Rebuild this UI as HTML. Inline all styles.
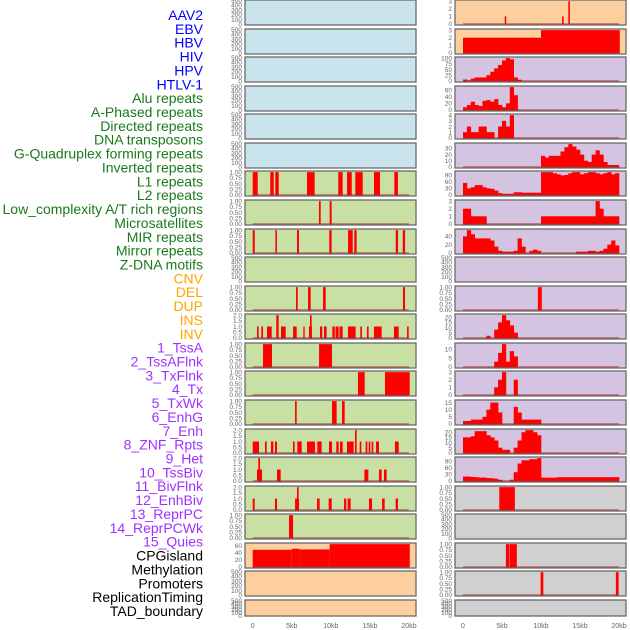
<!DOCTYPE html>
<html><head><meta charset="utf-8">
<style>
html,body{margin:0;padding:0;background:#fff;}
svg{display:block;font-family:"Liberation Sans",sans-serif;}
</style></head>
<body>
<svg id="chart" width="630" height="630" viewBox="0 0 630 630" xmlns="http://www.w3.org/2000/svg"></svg>
<script>
const trackLabels = ["AAV2","EBV","HBV","HIV","HPV","HTLV-1","Alu repeats","A-Phased repeats","Directed repeats","DNA transposons","G-Quadruplex forming repeats","Inverted repeats","L1 repeats","L2 repeats","Low_complexity A/T rich regions","Microsatellites","MIR repeats","Mirror repeats","Z-DNA motifs","CNV","DEL","DUP","INS","INV","1_TssA","2_TssAFlnk","3_TxFlnk","4_Tx","5_TxWk","6_EnhG","7_Enh","8_ZNF_Rpts","9_Het","10_TssBiv","11_BivFlnk","12_EnhBiv","13_ReprPC","14_ReprPCWk","15_Quies","CPGisland","Methylation","Promoters","ReplicationTiming","TAD_boundary"];
const labelColors = ["#0000ff","#0000ff","#0000ff","#0000ff","#0000ff","#0000ff","#1a7a1a","#1a7a1a","#1a7a1a","#1a7a1a","#1a7a1a","#1a7a1a","#1a7a1a","#1a7a1a","#1a7a1a","#1a7a1a","#1a7a1a","#1a7a1a","#1a7a1a","#ffa500","#ffa500","#ffa500","#ffa500","#ffa500","#a030ff","#a030ff","#a030ff","#a030ff","#a030ff","#a030ff","#a030ff","#a030ff","#a030ff","#a030ff","#a030ff","#a030ff","#a030ff","#a030ff","#a030ff","#000","#000","#000","#000","#000"];
const xTicks = [0,5,10,15,20];
const xTickLabels = ["0","5kb","10kb","15kb","20kb"];
const leftBg = ["#c9e4ec","#c9e4ec","#c9e4ec","#c9e4ec","#c9e4ec","#c9e4ec","#c9e0a5","#c9e0a5","#c9e0a5","#c9e0a5","#c9e0a5","#c9e0a5","#c9e0a5","#c9e0a5","#c9e0a5","#c9e0a5","#c9e0a5","#c9e0a5","#c9e0a5","#fecf9e","#fecf9e","#fecf9e"];
const rightBg = ["#fecf9e","#fecf9e","#d5c4e1","#d5c4e1","#d5c4e1","#d5c4e1","#d5c4e1","#d5c4e1","#d5c4e1","#d5c4e1","#d5c4e1","#d5c4e1","#d5c4e1","#d5c4e1","#d5c4e1","#d5c4e1","#d5c4e1","#d0d0d0","#d0d0d0","#d0d0d0","#d0d0d0","#d0d0d0"];
// y-axis maxima (0 = empty panel)
const leftMax = [0,0,0,0,0,0,1,1,1,0,1,2,1,1,1,2,2,2,1,64,0,0];
const rightMax = [3,3,100,70,4,37,105,3,55,0,1,22,13,3,16,22,105,1,0,1,1,0];
const leftTicks = [null,null,null,null,null,null,"u1","u1","u1",null,"u1","u2","u1","u1","u1","u2","u2","u2","u1",[0,20,40,60],null,null];
const rightTicks = [[0,1,2,3],[0,1,2,3],[0,25,50,75,100],[0,20,40,60],[0,1,2,3,4],[0,10,20,30],[0,30,60,90],[0,1,2,3],[0,20,40],null,"u1",[0,5,10,15,20],[0,5,10],[0,1,2,3],[0,5,10,15],[0,5,10,15,20],[0,30,60,90],"u1",null,"u1","u1",null];
// left intervals [startKb, endKb, value]
const leftIntervals = [[],[],[],[],[],[],
 [[0,0.64,1],[2.25,2.69,1],[2.89,3.33,1],[6.95,7.93,1],[10.95,11.51,1],[12.07,12.67,1],[13.13,14.08,1],[15.52,16.29,1],[18.12,18.59,1]],
 [[8.48,8.7,1],[9.85,10.1,1]],
 [[0,0.26,1],[2.9,3.1,1],[5.67,5.92,1],[9.8,10.1,1],[12.2,12.8,1],[13.0,13.3,1],[18.3,18.6,1],[19.2,19.5,1]],
 [],
 [[5.54,5.76,1],[7.08,7.42,1],[9.0,9.34,1],[19.23,19.49,1]],
 [[0.55,0.76,1],[1.1,1.32,1],[1.83,2.43,1],[3.02,3.32,2],[3.62,4.22,1],[5.16,5.63,1],[6.48,6.65,1],[7.2,7.58,1],[7.33,7.54,2],[8.61,8.9,1],[9.12,9.46,1],[10.19,10.5,1],[10.6,11.0,1],[11.1,11.51,1],[12.19,13.17,1],[13.77,13.98,1],[14.62,14.83,1],[15.52,16.5,1],[18.08,18.68,1],[19.75,19.96,1]],
 [[1.32,2.47,1],[8.49,10.15,1]],
 [[13.47,14.33,1],[16.93,20.09,1]],
 [[5.42,5.63,1],[10.15,10.74,1],[11.43,11.77,1]],
 [[0,0.81,1],[1.57,1.79,1],[2.34,2.64,1],[2.85,3.11,1],[5.16,5.37,1],[5.71,6.27,1],[6.95,7.97,1],[8.27,8.82,1],[9.76,10.15,1],[10.7,11.0,1],[11.17,11.51,1],[12.06,12.92,1],[13.09,13.3,2],[13.69,13.9,1],[14.45,14.67,1],[14.84,15.05,1],[15.22,15.43,1],[15.78,16.16,1],[18.2,18.68,1]],
 [[0.55,1.19,1],[0.72,0.94,2],[3.11,3.58,1],[14.29,14.8,1],[16.16,16.5,1],[16.8,17.14,1]],
 [[0,0.25,1],[2.85,3.11,1],[5.42,5.93,1],[5.67,5.88,2],[8.23,8.57,1],[9.72,10.11,1],[11.69,11.98,1],[12.15,12.53,1],[14.88,15.27,1],[16.55,16.89,1],[18.29,18.59,1]],
 [[4.65,5.16,1]],
 [[0,5,48],[5,6,51],[6,9.85,49],[9.85,20.1,64]],
 [],[]];
// right: intervals for some rows, 0.5kb bins for others
const rightIntervals = {
 0: [[5.35,5.55,1],[12.7,12.9,1],[13.5,13.7,3]],
 1: [[0,10,2],[10,20.1,3]],
 10: [[9.6,10.1,1]],
 17: [[4.65,6.65,1]],
 19: [[5.5,5.95,1],[6.0,6.9,1]],
 20: [[9.95,10.3,1],[19.6,19.95,1]]
};
const binsRow3 = [6,2,10,15,15,15,25,40,55,70,90,100,95,15,5];
const binsRow4 = [8,15,25,15,12,28,30,25,33,15,8,20,70,45];
const binsRow5 = [1,2,1,1,2,2,1,1,0,2,3,2,4];
const binsRow6 = [0,0,0,0,0,0,0,0,0,0,0,0,0,0,0,0,0,0,0,0,18,15,18,18,18,25,32,37,33,28,20,10,8,20,27,20,8,3,3,3];
const binsRow7 = [55,30,35,45,45,35,30,28,20,8,5,5,5,12,12,10,10,10,10,10,105,105,105,100,95,90,92,100,105,105,95,100,105,105,100,95,100,105,95,100];
const binsRow8 = [2,2,1,1,1,1,0,0,0,0,0,0,0,0,0,0,0,0,0,0,1,1,1,1,1,1,1,1,1,1,1,1,1,1,3,2,1,1,1,1];
const binsRow9 = [40,55,45,35,35,35,35,30,15,5,3,3,3,5,35,15,0,5,8,5,0,0,0,0,0,0,0,0,0,3,3,3,5,5,3,5,10,20,30,18];
const binsRow12 = [0,0,0,0,0,0,2,0,8,15,22,17,12,5];
const binsRow13 = [0,0,0,0,0,0,0,0,3,8,13,3,9,6];
const binsRow14 = [0,0,0,0,0,0,0,0,1,2,3,0,0,2];
const binsRow15 = [2,2,3,3,3,5,10,15,15,8,0,0,0,12,8,3,3,3,3,3];
const binsRow16 = [15,15,16,21,21,21,17,15,12,5,3,3,0,5,12,20,22,22,20,17];
const binsRow17 = [20,20,18,17,15,15,13,12,10,5,0,0,5,40,80,95,95,100,100,105,15,15,15,15,17,17,17,17,17,17,17,17,17,17,17,17,17,17,17,17];
const rightBins = {2:binsRow3,3:binsRow4,4:binsRow5,5:binsRow6,6:binsRow7,7:binsRow8,8:binsRow9,11:binsRow12,12:binsRow13,13:binsRow14,14:binsRow15,15:binsRow16,16:binsRow17};

const NS = "http://www.w3.org/2000/svg";
const svg = document.getElementById("chart");
function mk(tag, attrs, parent) {
  const e = document.createElementNS(NS, tag);
  for (const k in attrs) e.setAttribute(k, attrs[k]);
  (parent || svg).appendChild(e);
  return e;
}
// labels
trackLabels.forEach((t, i) => {
  const el = mk("text", {x: 203, y: 15 + i * 13.86 + 5, "text-anchor": "end", "font-size": 14, fill: labelColors[i]});
  el.textContent = t;
  
  
});
const panels = [{x:245, w:171, x0:252.7, k:7.815}, {x:455, w:171, x0:463, k:7.8}];
function rowTop(r) { return Math.round(r * 28.57); }
function rowH(r) { return r === 21 ? 16 : 25; }
function fmt(v, mode) {
  if (mode === "u1") return v.toFixed(2);
  if (mode === "u2") return v.toFixed(1);
  return String(v);
}
function drawPanel(r, side) {
  const P = panels[side];
  const top = rowTop(r), h = rowH(r);
  const g = mk("g", {});
  
  
  mk("rect", {x: P.x, y: top, width: P.w, height: h, fill: side ? rightBg[r] : leftBg[r], stroke: "#6a6a6a", "stroke-width": 1.3}, g);
  let M = side ? rightMax[r] : leftMax[r];
  let tm = side ? rightTicks[r] : leftTicks[r];
  let ticks, mode = null;
  const empty = M === 0;
  if (empty) { M = 500; ticks = [0,100,200,300,400,500]; }
  else if (tm === "u1") { ticks = [0,0.25,0.5,0.75,1]; mode = "u1"; }
  else if (tm === "u2") { ticks = [0,0.5,1,1.5,2]; mode = "u2"; }
  else ticks = tm;
  const lo = empty ? -0.03 * M : -0.05 * M, hi = empty ? 1.03 * M : 1.05 * M;
  const yS = v => top + h - (v - lo) / (hi - lo) * h;
  const xS = kb => P.x0 + kb * P.k;
  ticks.forEach(v => {
    const t = mk("text", {x: P.x - 3, y: yS(v) + 2.3, "text-anchor": "end", "font-size": 6.5, fill: "#666"}, g);
    t.textContent = fmt(v, mode);
  });
  if (empty) return;
  // bars
  const ints = side ? rightIntervals[r] : leftIntervals[r];
  if (ints) ints.forEach(iv => {
    const b = mk("rect", {x: xS(iv[0]), y: yS(iv[2]), width: Math.max(1.2, xS(iv[1]) - xS(iv[0])), height: yS(0) - yS(iv[2]) + 0.5, fill: "#ff0000"}, g);
    
    
  });
  const bins = side ? rightBins[r] : null;
  if (bins) bins.forEach((v, i) => {
    if (!v) return;
    const b = mk("rect", {x: xS(i * 0.5), y: yS(v), width: xS(0.5) - xS(0) + 0.3, height: yS(0) - yS(v) + 0.5, fill: "#ff0000"}, g);
    
    
  });
  mk("line", {x1: xS(0), x2: xS(20), y1: yS(0), y2: yS(0), stroke: "rgba(170,40,40,0.55)", "stroke-width": 1.6}, g);
}
for (let r = 0; r < 22; r++) { drawPanel(r, 0); drawPanel(r, 1); }
// x axes
panels.forEach((P, s) => {
  xTicks.forEach((v, i) => {
    const t = mk("text", {x: P.x0 + v * P.k, y: 628, "text-anchor": "middle", "font-size": 7, fill: "#666"});
    t.textContent = xTickLabels[i];
    
    
  });
});
</script>
</body></html>
